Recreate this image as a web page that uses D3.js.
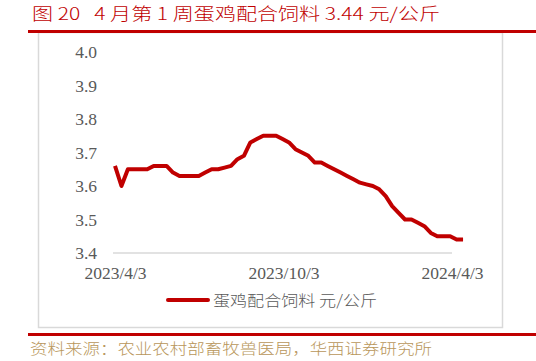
<!DOCTYPE html>
<html>
<head>
<meta charset="utf-8">
<script src="https://cdn.jsdelivr.net/npm/d3@7"></script>
<style>
  body { margin: 0; background: #fff; }
  svg { display: block; }
</style>
</head>
<body>
<div class="chart"></div>
<script>
// data: weekly price, yuan/kg, starting 2023/4/3
const startDate = '2023-04-03'
const prices = [
    3.66, 3.60, 3.65, 3.65, 3.65, 3.65, 3.66, 3.66, 3.66, 3.64,
    3.63, 3.63, 3.63, 3.63, 3.64, 3.65, 3.65, 3.655, 3.66, 3.68,
    3.69, 3.73, 3.74, 3.75, 3.75, 3.75, 3.74, 3.73, 3.71, 3.70,
    3.69, 3.67, 3.67, 3.66, 3.65, 3.64, 3.63, 3.62, 3.61, 3.605,
    3.60, 3.59, 3.57, 3.54, 3.52, 3.50, 3.50, 3.49, 3.48, 3.46,
    3.45, 3.45, 3.45, 3.44, 3.44
]
const yTicks = [3.4, 3.5, 3.6, 3.7, 3.8, 3.9, 4.0]
const xTickLabels = ['2023/4/3', '2023/10/3', '2024/4/3']
const seriesName = '蛋鸡配合饲料 元/公斤'
const titleText = '图 20\u00a0\u00a0\u00a04 月第 1 周蛋鸡配合饲料 3.44 元/公斤'
const sourceText = '资料来源：农业农村部畜牧兽医局，华西证券研究所'

const parseDate = d3.timeParse('%Y-%m-%d')
const parseLabel = d3.timeParse('%Y/%m/%d')

const data = prices.map((v, i) => ({
    date: d3.timeDay.offset(parseDate(startDate), i * 7),
    value: v
}))

const width = 536
const height = 361
const red = '#c00000'
const gray = '#595959'

const svg = d3.select('.chart')
    .append('svg')
    .attr('width', width)
    .attr('height', height)

// Frame.
svg.append('text')
    .attr('x', 32)
    .attr('y', 20)
    .attr('textLength', 408)
    .attr('lengthAdjust', 'spacingAndGlyphs')
    .style('font-family', '"Noto Sans CJK SC", sans-serif')
    .style('font-size', '17px')
    .style('font-weight', 300)
    .style('fill', red)
    .text(titleText)

svg.append('rect')
    .attr('x', 38.5)
    .attr('y', 32.5)
    .attr('width', 464)
    .attr('height', 295)
    .style('fill', 'none')
    .style('stroke', '#d9d9d9')
    .style('stroke-width', 1.5)

svg.append('rect')
    .attr('x', 28).attr('y', 30)
    .attr('width', 508).attr('height', 3)
    .style('fill', red)

svg.append('rect')
    .attr('x', 28).attr('y', 333)
    .attr('width', 508).attr('height', 3)
    .style('fill', red)

svg.append('text')
    .attr('x', 30)
    .attr('y', 354)
    .attr('textLength', 402)
    .attr('lengthAdjust', 'spacingAndGlyphs')
    .style('font-family', '"Noto Sans CJK SC", sans-serif')
    .style('font-size', '15px')
    .style('font-weight', 300)
    .style('fill', '#b8965a')
    .text(sourceText)

// Scales.
const xScale = d3.scaleTime()
    .domain([parseLabel(xTickLabels[0]), parseLabel(xTickLabels[2])])
    .range([115, 452])

const yScale = d3.scaleLinear()
    .domain([3.4, 4.0])
    .range([253, 52])

// Axes.
const yAxis = svg.append('g')
    .attr('transform', 'translate(104,0)')
    .call(d3.axisLeft(yScale).tickValues(yTicks).tickFormat(d3.format('.1f')).tickSize(0).tickPadding(7))
yAxis.select('.domain').remove()
yAxis.selectAll('text')
    .style('font-family', '"Liberation Serif", serif')
    .style('font-size', '17.5px')
    .style('fill', gray)

const xAxis = svg.append('g')
    .attr('transform', `translate(0,${yScale(3.4)})`)
    .call(d3.axisBottom(xScale)
        .tickValues(xTickLabels.map(parseLabel))
        .tickFormat((d, i) => xTickLabels[i])
        .tickSize(0)
        .tickPadding(14))
xAxis.select('.domain')
    .attr('d', `M${xScale.range()[0] - 2},0H${xScale.range()[1]}`)
    .style('stroke', '#d9d9d9')
    .style('stroke-width', 1.5)
xAxis.selectAll('text')
    .style('font-family', '"Liberation Serif", serif')
    .style('font-size', '17.5px')
    .style('fill', gray)

// Line.
const line = d3.line()
    .x(d => xScale(d.date))
    .y(d => yScale(d.value))

svg.append('path')
    .datum(data)
    .attr('d', line)
    .style('fill', 'none')
    .style('stroke', red)
    .style('stroke-width', 4)
    .style('stroke-linejoin', 'round')

// Legend.
const legend = svg.append('g').attr('transform', 'translate(168,300)')
legend.append('line')
    .attr('x1', 0).attr('x2', 40)
    .style('stroke', red)
    .style('stroke-width', 4)
    .style('stroke-linecap', 'round')
legend.append('text')
    .attr('x', 45)
    .attr('y', 6)
    .attr('textLength', 164)
    .attr('lengthAdjust', 'spacingAndGlyphs')
    .style('font-family', '"Noto Sans CJK SC", sans-serif')
    .style('font-size', '15px')
    .style('font-weight', 300)
    .style('fill', gray)
    .text(seriesName)
</script>
</body>
</html>
